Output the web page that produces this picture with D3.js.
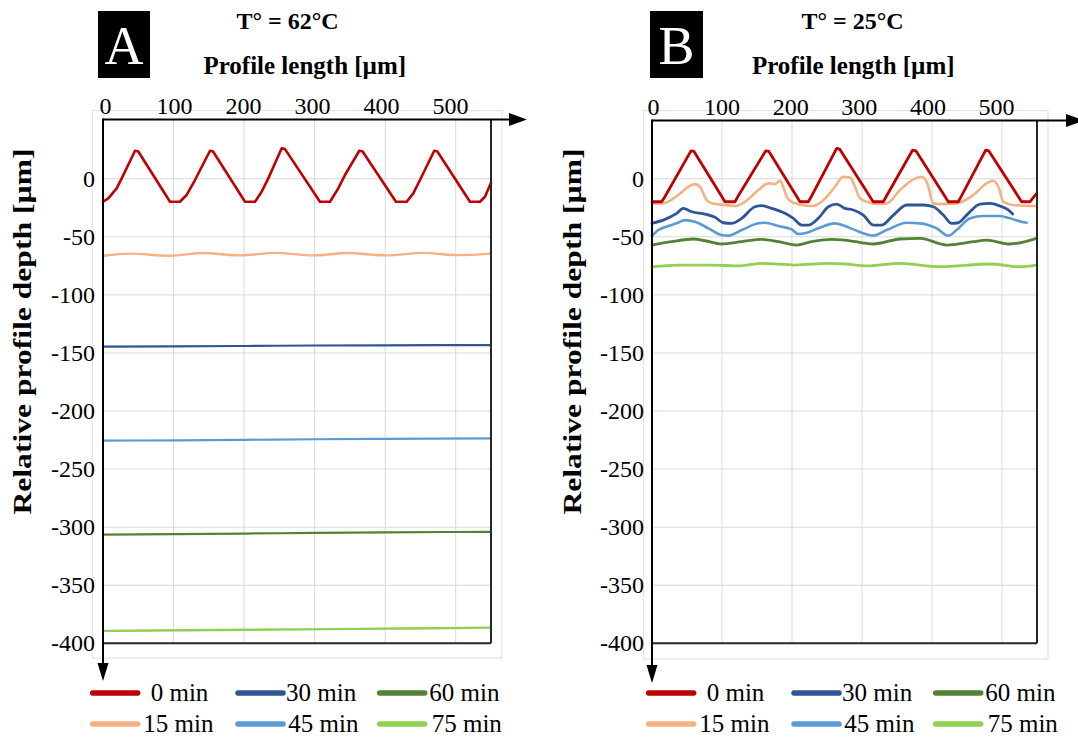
<!DOCTYPE html>
<html><head><meta charset="utf-8">
<script src="https://cdn.jsdelivr.net/npm/d3@7"></script>
<style>body{margin:0;background:#fff}svg{display:block}svg text{font-family:"Liberation Serif","Times New Roman",serif !important}</style>
</head><body>
<svg id="c" width="1078" height="742"></svg>
<script>
// ---------- data ----------
const xTickLabels = [0, 100, 200, 300, 400, 500];
const yTickValues = [-400, -350, -300, -250, -200, -150, -100, -50, 0];
const seriesNames = ["0 min", "15 min", "30 min", "45 min", "60 min", "75 min"];
const seriesColors = ["#c00000", "#f4b183", "#2f5597", "#5b9bd5", "#548235", "#92d050"];
const panelLetters = ["A", "B"];
const panelTitles = ["T° = 62°C", "T° = 25°C"];
const xTitle = "Profile length [µm]";
const yTitle = "Relative profile depth [µm]";

// Panel A (62°C)
const a0 = [[0,-19.8],[7.5,-16.9],[19.4,-8.3],[26.5,0.3],[45.4,24.1],[50,23.5],[95,-19.8],[109,-19.8],[118.6,-14],[130.4,-1.1],[151.7,24.1],[156,23.5],[201.3,-19.8],[215.5,-19.8],[224.9,-11.2],[234.3,0.3],[253.3,26.2],[258,25.5],[307.6,-19.8],[321.8,-19.8],[333.5,-8.3],[343,3.2],[363.3,24.1],[368,23.5],[415.3,-19.8],[430.5,-19.8],[439.8,-12.6],[449.3,-1.1],[469.6,24.1],[474,23.5],[520.2,-19.8],[534.4,-19.8],[541.5,-15.5],[550,-3.4]];
const a15 = [[0,-66.5],[38,-64.5],[95,-66.3],[142,-64],[194,-66],[244,-63.8],[298,-66],[346,-64],[402,-66],[454,-63.8],[502,-65.8],[550,-64.5]];
const a30 = [[0,-144.5],[100,-144.3],[200,-144],[300,-143.6],[400,-143.4],[550,-143.2]];
const a45 = [[0,-225.5],[110,-225.2],[200,-224.8],[300,-224.3],[400,-224],[550,-223.5]];
const a60 = [[0,-306.5],[100,-306],[200,-305.5],[300,-305],[400,-304.5],[550,-304]];
const a75 = [[0,-389.3],[70,-389],[160,-388.6],[280,-388],[420,-387.3],[550,-386.5]];

// Panel B (25°C)
const b0 = [[0,-19.8],[13.8,-19.8],[18,-16],[55.7,24],[60,23.5],[104.3,-19.8],[118.6,-19.8],[122,-16],[162.4,24],[167,23.5],[211.4,-19.8],[223.3,-19.8],[227,-16],[263.8,26.2],[268,25.5],[316,-19.8],[330.4,-19.8],[334,-16],[372.4,24.7],[377,24],[423.3,-19.8],[437.6,-19.8],[441,-16],[476.7,24.7],[481,24],[528,-19.8],[540,-19.8],[549.6,-12.6]];
const b15 = [[0,-21.2],[15.7,-21.2],[37.6,-14],[51.9,-6.9],[61.4,-4.6],[68.6,-6.9],[78,-18.3],[85.2,-21.2],[104.3,-22.6],[118.6,-23.5],[132.9,-19.8],[151.9,-9.7],[166.2,-4],[175.7,-4.6],[182.9,-1.7],[187.6,-6.9],[192.4,-15.5],[199.5,-19.8],[213.8,-22.6],[228.1,-23.5],[242.4,-19.8],[261.4,-6.9],[273.3,1.7],[282.9,1.1],[290,-6.9],[297,-16.9],[306.7,-19.8],[321,-21.8],[335.2,-21.2],[354.3,-9.7],[373.3,-0.5],[385.2,1.7],[393.3,-4],[401.9,-21.2],[411.4,-21.8],[435.2,-21.2],[459,-14],[478,-4],[487.6,-1.7],[494.8,-6.9],[502,-19.8],[516,-22.6],[549.6,-23.5]];
const b30 = [[0,-38.4],[18.6,-35],[35.2,-29.8],[44.8,-25.5],[56.7,-28.4],[75.7,-30.4],[90,-33.2],[101.9,-37.9],[113.8,-38.4],[128.1,-34.1],[147.1,-24.1],[156.7,-23.2],[171,-25.5],[190,-29.8],[201.9,-34.1],[213.8,-39.9],[223.3,-39.9],[237.6,-34.1],[251.9,-24.1],[263.8,-21.8],[275.7,-25.5],[287.6,-26.9],[301.9,-31.3],[316.2,-39.9],[328.1,-39.9],[344.8,-31.3],[363.8,-22.6],[387.6,-22.6],[401.9,-24.1],[416.2,-31.3],[428.1,-38.4],[437.6,-37.9],[449.5,-31.3],[468.6,-21.8],[482.9,-21.2],[497,-23.5],[509,-26.9],[515.2,-30.4]];
const b45 = [[0,-49.3],[9,-44.2],[23.3,-40.7],[35.2,-38.4],[47.1,-35.6],[61.4,-37],[80.5,-42.7],[99.5,-48.5],[109,-49],[128.1,-44.2],[151.9,-38.4],[161.4,-37.9],[180.5,-40.7],[199.5,-43.6],[209,-47.6],[218.6,-47],[237.6,-42.7],[261.4,-38.4],[275.7,-40.7],[287.6,-43.6],[316.2,-49],[335.2,-44.2],[363.8,-37.9],[382.9,-38.4],[406.7,-42.7],[423.3,-49],[435.2,-44.2],[454.3,-34.1],[473.3,-32.1],[497,-32.1],[511.4,-34.1],[528.1,-37],[535.2,-37.9]];
const b60 = [[0,-57.1],[28,-54.2],[59,-51.9],[75.7,-53.4],[99.5,-56.2],[128.1,-54.2],[156.7,-52.2],[180.5,-54.2],[206.7,-57.1],[228.1,-54.2],[256.7,-52.2],[275.7,-52.8],[316.2,-56.2],[354.3,-51.9],[382.9,-51.3],[421,-57.1],[459,-54.2],[478,-52.8],[511.4,-56.2],[549.6,-51.3]];
const b75 = [[0,-75.8],[37.6,-74.3],[85.2,-74.3],[123.3,-75.1],[156.7,-72.9],[204.3,-74.3],[251.9,-72.9],[275.7,-73.4],[306.7,-75.1],[354.3,-72.9],[411.4,-75.8],[482.9,-73.4],[525.7,-75.8],[549.6,-74.3]];

const panelSeries = [[a0,a15,a30,a45,a60,a75],[b0,b15,b30,b45,b60,b75]];

// ---------- layout ----------
const FONT = "'Liberation Serif','Times New Roman',serif";
const panels = [
  {ox:0, left:103, right:491, top:119.5, bottom:643.3, lab:[105,450], border:[92.5,110.5,502,658],
   box:[98,11,52,67], titleX:287.6, xTitleX:304.8, yTitleX:22, arrowX:527, arrowY:681, lw:[2.6,2.4,2.2,2.2,2.2,2.4]},
  {ox:556, left:652, right:1037, top:120.5, bottom:643.3, lab:[653,996], border:[643.5,110.5,1048,659],
   box:[650,11,53,67], titleX:852.5, xTitleX:853.3, yTitleX:572, arrowX:1084, arrowY:683, lw:[2.8,2.6,2.8,2.6,2.8,2.8]}
];
const legendCols = [{sw:90.7, t1:150.7, t2:143.3},{sw:236, t1:286, t2:288.3},{sw:377.7, t1:429.3, t2:431.7}];
const legendOrder = [[0,2,4],[1,3,5]];
const legendRowY = [693, 724];
const legendBase = [700.5, 731.5];

const svg = d3.select("#c");

panels.forEach((p, pi) => {
  const g = svg.append("g");
  const x = d3.scaleLinear().domain([0, 550]).range([p.left, p.right]);
  const y = d3.scaleLinear().domain([-400, 51]).range([643.3, 119.5]);
  const xl = d3.scaleLinear().domain([0, 500]).range(p.lab);

  // outer light border
  g.append("rect").attr("x", p.border[0]).attr("y", p.border[1])
    .attr("width", p.border[2]-p.border[0]).attr("height", p.border[3]-p.border[1])
    .attr("fill", "none").attr("stroke", "#e3e3e3").attr("stroke-width", 1.2);

  // gridlines
  g.append("g").selectAll("line").data(xTickLabels.filter(d => d > 0)).join("line")
    .attr("x1", d => x(d)).attr("x2", d => x(d)).attr("y1", p.top).attr("y2", p.bottom)
    .attr("stroke", "#d9d9d9").attr("stroke-width", 1);
  g.append("g").selectAll("line").data(yTickValues.filter(d => d > -400)).join("line")
    .attr("x1", p.left).attr("x2", p.right).attr("y1", d => y(d)).attr("y2", d => y(d))
    .attr("stroke", "#d9d9d9").attr("stroke-width", 1);

  // series
  const lineSharp = d3.line().x(d => x(d[0])).y(d => y(d[1])).curve(d3.curveLinear);
  const lineSmooth = d3.line().x(d => x(d[0])).y(d => y(d[1])).curve(d3.curveMonotoneX);
  const order = [5,4,3,2,1,0];
  order.forEach(si => {
    g.append("path").datum(panelSeries[pi][si]).attr("d", si === 0 ? lineSharp : lineSmooth)
      .attr("fill", "none").attr("stroke", seriesColors[si]).attr("stroke-width", p.lw[si])
      .attr("stroke-linejoin", "round").attr("stroke-linecap", "round");
  });

  // frame right & bottom
  g.append("line").attr("x1", p.right).attr("x2", p.right).attr("y1", p.top).attr("y2", y(-400))
    .attr("stroke", "#262626").attr("stroke-width", 2);
  g.append("line").attr("x1", p.left).attr("x2", p.right).attr("y1", y(-400)).attr("y2", y(-400))
    .attr("stroke", "#262626").attr("stroke-width", 2);

  // axis lines with arrows
  g.append("line").attr("x1", p.left).attr("x2", p.arrowX - 15).attr("y1", p.top).attr("y2", p.top)
    .attr("stroke", "#000").attr("stroke-width", 2);
  g.append("path").attr("d", `M${p.arrowX},${p.top} L${p.arrowX-18},${p.top-6.5} L${p.arrowX-18},${p.top+6.5} Z`).attr("fill", "#000");
  g.append("line").attr("x1", p.left).attr("x2", p.left).attr("y1", p.top - 1).attr("y2", p.arrowY - 15)
    .attr("stroke", "#000").attr("stroke-width", 2);
  g.append("path").attr("d", `M${p.left},${p.arrowY} L${p.left-5.5},${p.arrowY-18} L${p.left+5.5},${p.arrowY-18} Z`).attr("fill", "#000");

  // x tick labels (top)
  const xa = g.append("g").attr("transform", `translate(0,${p.top - 6})`)
    .call(d3.axisTop(xl).tickValues(xTickLabels).tickSize(0).tickPadding(0).tickFormat(d => String(d)));
  xa.attr("font-family", FONT).attr("font-size", 24);
  xa.select(".domain").remove();
  xa.selectAll("text").attr("fill", "#000").style("font-family", FONT).style("font-size", "24px");

  // y tick labels
  const ya = g.append("g").attr("transform", `translate(${p.left - 8},0)`)
    .call(d3.axisLeft(y).tickValues(yTickValues).tickSize(0).tickPadding(0).tickFormat(d => String(d)));
  ya.attr("font-family", FONT).attr("font-size", 24);
  ya.select(".domain").remove();
  ya.selectAll("text").attr("fill", "#000").style("font-family", FONT).style("font-size", "24px");

  // letter box
  g.append("rect").attr("x", p.box[0]).attr("y", p.box[1]).attr("width", p.box[2]).attr("height", p.box[3]).attr("fill", "#000");
  g.append("text").attr("x", p.box[0] + p.box[2]/2).attr("y", 64).attr("text-anchor", "middle")
    .attr("font-size", 54).attr("fill", "#fff").style("font-family", FONT).text(panelLetters[pi]);

  // titles
  g.append("text").attr("x", p.titleX).attr("y", 29).attr("text-anchor", "middle").style("font-family", FONT)
    .attr("font-size", 24).attr("font-weight", "bold").text(panelTitles[pi]);
  g.append("text").attr("x", p.xTitleX).attr("y", 74).attr("text-anchor", "middle").style("font-family", FONT)
    .attr("font-size", 25).attr("font-weight", "bold").text(xTitle);
  g.append("text").attr("transform", `translate(${p.yTitleX + 9},331.5) rotate(-90)`).attr("text-anchor", "middle")
    .style("font-family", FONT).attr("font-size", 26).attr("font-weight", "bold")
    .attr("textLength", 366).attr("lengthAdjust", "spacingAndGlyphs").text(yTitle);

  // legend
  legendOrder.forEach((row, ri) => {
    row.forEach((si, ci) => {
      const c = legendCols[ci];
      g.append("line").attr("x1", c.sw + p.ox + 2).attr("x2", c.sw + p.ox + 47)
        .attr("y1", legendRowY[ri]).attr("y2", legendRowY[ri])
        .attr("stroke", seriesColors[si]).attr("stroke-width", 5.5).attr("stroke-linecap", "round");
      g.append("text").attr("x", (ri === 0 ? c.t1 : c.t2) + p.ox).attr("y", legendBase[ri])
        .style("font-family", FONT).attr("font-size", 25).attr("fill", "#000").text(seriesNames[si]);
    });
  });
});
</script>
</body></html>
